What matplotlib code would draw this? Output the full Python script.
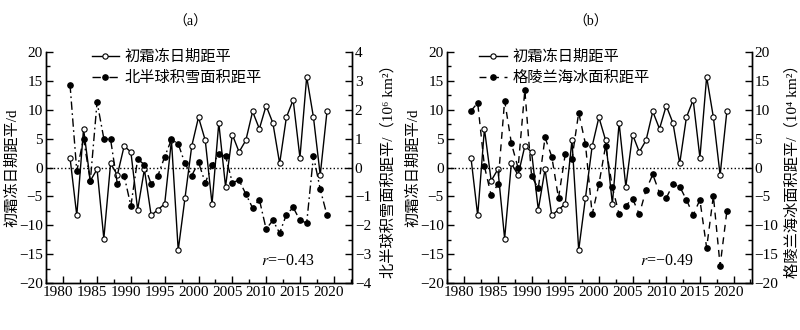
import matplotlib.pyplot as plt
from matplotlib.lines import Line2D
from matplotlib.ticker import MultipleLocator
from matplotlib.transforms import ScaledTranslation

plt.rcParams['font.family'] = ['Liberation Serif', 'Noto Sans CJK SC']
plt.rcParams['mathtext.fontset'] = 'stix'
plt.rcParams['font.size'] = 11

years = list(range(1981, 2020))

# 初霜冻日期距平 (d)
frost = [1.7, -8.3, 6.7, -2.3, -0.3, -12.3, 0.7, -1.3, 3.7, 2.7,
         -7.3, -0.3, -8.3, -7.3, -6.3, 4.7, -14.3, -5.3, 3.7, 8.7,
         4.7, -6.3, 7.7, -3.3, 5.7, 2.7, 4.7, 9.7, 6.7, 10.7,
         7.7, 0.7, 8.7, 11.7, 1.7, 15.7, 8.7, -1.3, 9.7]

# 北半球积雪面积距平 (10^6 km2)
snow = [2.87, -0.13, 1.0, -0.47, 2.27, 1.0, 0.97, -0.57, -0.28, -1.33,
        0.29, 0.1, -0.58, -0.28, 0.37, 0.97, 0.82, 0.14, -0.28, 0.18,
        -0.53, 0.07, 0.47, 0.39, -0.52, -0.44, -0.92, -1.4, -1.11, -2.13,
        -1.83, -2.27, -1.63, -1.38, -1.83, -1.92, 0.4, -0.75, -1.65]

# 格陵兰海冰面积距平 (10^4 km2)
seaice = [9.8, 11.2, 0.2, -4.8, -2.9, 11.6, 4.2, -0.1, 13.4, -1.5,
          -3.6, 5.2, 1.9, -5.3, 2.3, 1.5, 9.5, 4.1, -8.1, -2.9,
          3.8, -3.4, -8.1, -6.6, -5.4, -8.1, -3.9, -1.2, -4.4, -5.3,
          -2.9, -3.3, -5.6, -8.2, -5.6, -13.9, -4.9, -17.0, -7.6]

frost_label = '初霜冻日期距平'


def panel(fig, rect, other, other_lim, other_step, other_label, dashes,
          leg_label, r_text, leg_x, r_x, title, title_x, rpad):
    ax = fig.add_axes(rect)
    ax2 = ax.twinx()

    ax.axhline(0, color='k', ls=':', lw=1.0)
    ax.plot(years, frost, color='k', lw=1.0, marker='o', ms=3.8,
            mfc='white', mec='k', mew=0.8, zorder=3)
    ax2.plot(years, other, color='k', lw=1.0, dashes=dashes, marker='o',
             ms=3.8, mfc='k', mec='k')

    ax.set_xlim(1977.4, 2022.7)
    ax.set_ylim(-20, 20)
    ax.xaxis.set_major_locator(MultipleLocator(5))
    ax.xaxis.set_minor_locator(MultipleLocator(2.5))
    ax.yaxis.set_major_locator(MultipleLocator(5))
    ax.yaxis.set_minor_locator(MultipleLocator(2.5))
    ax2.set_ylim(-other_lim, other_lim)
    ax2.yaxis.set_major_locator(MultipleLocator(other_step))
    ax2.yaxis.set_minor_locator(MultipleLocator(other_step / 2))

    for a in (ax, ax2):
        a.spines['top'].set_visible(False)
        for s in a.spines.values():
            s.set_linewidth(1.0)
        a.tick_params(which='both', direction='in', top=False, labelsize=11,
                      width=1.0, pad=2)
        a.tick_params(which='major', length=5)
        a.tick_params(which='minor', length=3)
    ax.tick_params(axis='y', which='both', right=False)

    # x tick labels sit a little left of their ticks in the original
    shift = ScaledTranslation(-0.05, 0, fig.dpi_scale_trans)
    for lab in ax.get_xticklabels():
        lab.set_transform(lab.get_transform() + shift)

    ax.set_ylabel('初霜冻日期距平/d', labelpad=0, fontsize=11)
    ax2.set_ylabel(other_label, labelpad=rpad, fontsize=11)

    handles = [
        Line2D([], [], color='k', lw=1.0, marker='o', ms=3.8, mfc='white',
               mec='k', mew=0.8),
        Line2D([], [], color='k', lw=1.0, dashes=dashes, marker='o', ms=3.8,
               mfc='k', mec='k'),
    ]
    ax2.legend(handles, [frost_label, leg_label], loc='upper left',
               bbox_to_anchor=(leg_x, 1.01), frameon=False, borderpad=0,
               borderaxespad=0, handlelength=1.8, handletextpad=0.35,
               labelspacing=0.45, fontsize=11)

    ax.text(r_x, 0.095, r_text, transform=ax.transAxes, ha='center',
            va='center', fontsize=11.5)
    fig.text(title_x, 0.932, title, ha='center', va='center', fontsize=10)


fig = plt.figure(figsize=(8, 3.3), dpi=100)

panel(fig, [0.0571, 0.1424, 0.3829, 0.70], snow, 4, 1,
      '北半球积雪面积距平/（10⁶ km²）', (6, 2.5, 1.2, 2.5),
      '北半球积雪面积距平', '$r$=−0.43', 0.15, 0.79, '（a）', 0.238, 7)

panel(fig, [0.5584, 0.1424, 0.3813, 0.70], seaice, 20, 5,
      '格陵兰海冰面积距平/（10⁴ km²）', (5, 4),
      '格陵兰海冰面积距平', '$r$=−0.49', 0.107, 0.72, '（b）', 0.738, 5)

fig.savefig('out.png', dpi=100)
